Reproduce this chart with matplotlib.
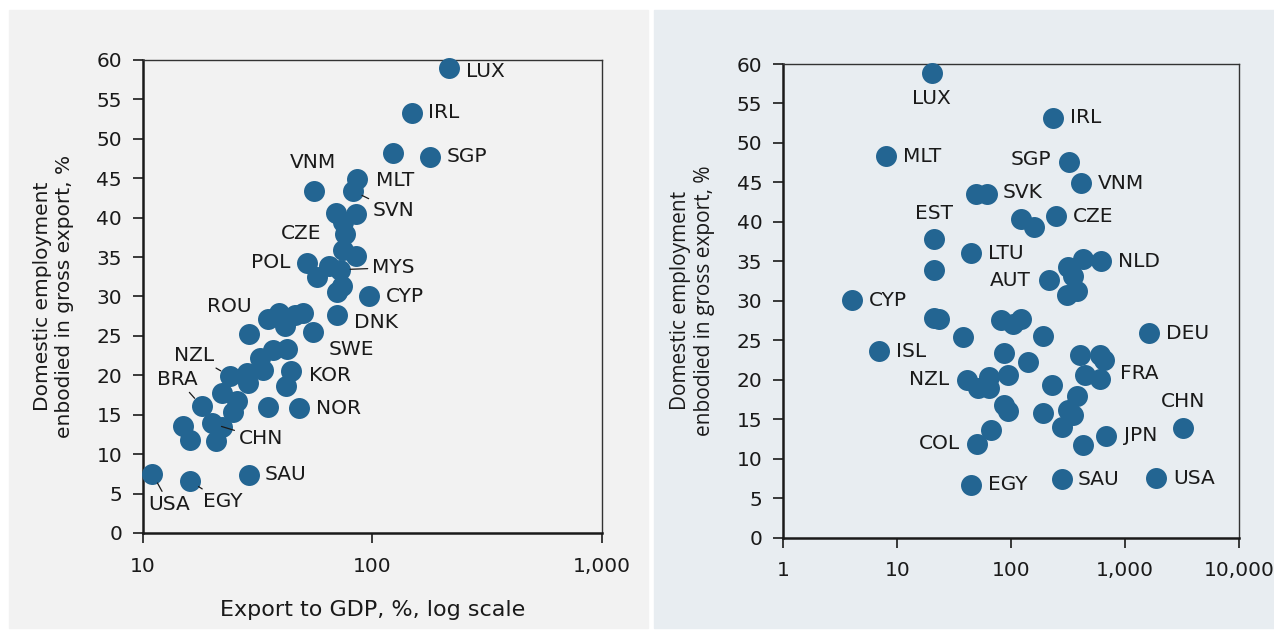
import numpy as np
import matplotlib
matplotlib.use("Agg")
import matplotlib.pyplot as plt
from matplotlib.patches import Rectangle
from matplotlib.ticker import FixedLocator, FuncFormatter, NullLocator

plt.rcParams['font.family'] = ['DejaVu Sans']

# Left panel: export to GDP (%) vs domestic employment embodied in gross export (%)
left_codes = ['LUX', 'IRL', '', 'SGP', 'MLT', 'VNM', 'SVN', '', '', '', 'CZE', '', '',
              'POL', '', 'MYS', '', '', '', 'CYP', 'DNK', 'ROU', '', '', '', '', '',
              'SWE', '', '', '', '', '', 'NZL', '', 'KOR', '', '', '', '', 'BRA', '',
              'NOR', '', 'CHN', '', '', '', 'USA', 'EGY', 'SAU']
left_x = [215, 148, 123, 179, 86, 55.7, 82, 69.2, 84.9, 74.3, 75.9, 74.2, 84.7,
          52.0, 64.8, 72.1, 57.2, 70.2, 73.6, 96.8, 70.2, 29.0, 35.1, 39.2, 45.9, 50.0, 41.6,
          54.8, 42.3, 37.0, 32.4, 33.4, 28.3, 23.9, 28.8, 44.0, 42.0, 22.0, 25.6, 24.7, 18.0, 34.9,
          48.0, 15.0, 19.9, 22.0, 16.0, 20.9, 11.0, 16.0, 29.0]
left_y = [59.0, 53.3, 48.2, 47.7, 44.9, 43.4, 43.4, 40.6, 40.4, 39.4, 37.9, 35.9, 35.1,
          34.3, 33.9, 33.4, 32.5, 30.6, 31.3, 30.0, 27.6, 25.3, 27.1, 27.9, 27.7, 27.9, 26.2,
          25.5, 23.4, 23.2, 22.2, 20.7, 20.3, 19.9, 19.0, 20.6, 18.6, 17.7, 16.7, 15.4, 16.1, 16.0,
          15.8, 13.6, 13.9, 13.5, 11.8, 11.7, 7.5, 6.6, 7.4]

# Right panel: same countries against export volume (log scale)
right_codes = ['LUX', 'IRL', 'MLT', 'SGP', 'VNM', '', 'SVK', '', '', 'CZE', 'EST', '',
               'LTU', 'AUT', '', '', 'NLD', '', '', '', 'CYP', '', '', '', '', '', '', '',
               'DEU', 'ISL', '', '', '', '', '', '', 'FRA', 'NZL', '', '', '', '', '', '',
               '', '', '', '', '', '', '', 'COL', '', 'JPN', 'CHN', 'EGY', 'SAU', 'USA']
right_x = [20.0, 231, 7.96, 323, 408, 48.7, 60.9, 121, 158, 247, 20.9, 20.9,
           44.3, 215, 316, 428, 612, 350, 310, 379, 3.98, 21.0, 23.4, 37.9, 80.7, 104, 123, 191,
           1615, 6.95, 86.3, 141, 401, 600, 650, 443, 600, 40.6, 51.4, 64.1, 64.1, 94.2, 229,
           86.3, 94.2, 191, 375, 316, 350, 277, 65.9, 50.3, 423, 673, 3228, 44.3, 277, 1858]
right_y = [58.9, 53.2, 48.3, 47.6, 44.9, 43.5, 43.5, 40.4, 39.3, 40.7, 37.8, 33.9,
           36.0, 32.6, 34.3, 35.3, 35.0, 33.1, 30.7, 31.3, 30.1, 27.8, 27.7, 25.4, 27.6, 27.1, 27.7, 25.5,
           25.9, 23.6, 23.4, 22.2, 23.1, 23.1, 22.5, 20.6, 20.1, 20.0, 18.9, 20.4, 18.9, 20.6, 19.3,
           16.8, 16.1, 15.8, 17.9, 16.2, 15.5, 14.0, 13.6, 11.9, 11.7, 12.9, 13.9, 6.7, 7.4, 7.5]

# label placement: offset in pixels from the dot, alignment, leader line
left_labels = {
    'LUX': (17, -4, 'left', False), 'IRL': (16, 0, 'left', False),
    'SGP': (16, 0, 'left', False), 'MLT': (19, -1, 'left', False),
    'VNM': (-1, 28, 'center', False), 'SVN': (20, -20, 'left', True),
    'CZE': (-24, 1, 'right', False), 'POL': (-17, 0, 'right', False),
    'MYS': (32, 2, 'left', True), 'CYP': (17, 0, 'left', False),
    'DNK': (17, -7, 'left', False), 'ROU': (-20, 27, 'center', False),
    'SWE': (16, -18, 'left', False), 'NZL': (-16, 21, 'right', True),
    'BRA': (-24, 27, 'center', True), 'KOR': (18, -5, 'left', False),
    'NOR': (17, 0, 'left', False), 'CHN': (27, -15, 'left', True),
    'USA': (17, -31, 'center', True), 'EGY': (13, -21, 'left', True),
    'SAU': (16, 0, 'left', False),
}
right_labels = {
    'LUX': (0, -26, 'center', False), 'IRL': (17, 0, 'left', False),
    'MLT': (17, 0, 'left', False), 'SGP': (-18, 2, 'right', False),
    'VNM': (17, 0, 'left', False), 'SVK': (16, 2, 'left', False),
    'EST': (0, 26, 'center', False), 'CZE': (17, 0, 'left', False),
    'LTU': (17, 0, 'left', False), 'AUT': (-18, 0, 'right', False),
    'NLD': (17, 0, 'left', False), 'CYP': (17, 0, 'left', False),
    'DEU': (17, 0, 'left', False), 'ISL': (17, 0, 'left', False),
    'NZL': (-17, 0, 'right', False), 'FRA': (20, 6, 'left', False),
    'CHN': (0, 26, 'center', False), 'JPN': (18, 0, 'left', False),
    'COL': (-17, 0, 'right', False), 'EGY': (17, 0, 'left', False),
    'SAU': (16, 0, 'left', False), 'USA': (17, 0, 'left', False),
}

DOT = '#236592'
INK = '#1a1a1a'
FS = 14.5

fig = plt.figure(figsize=(12.74, 6.30), dpi=100)
fig.add_artist(Rectangle((9 / 1274, 2 / 630), 639 / 1274, 618 / 630,
                         transform=fig.transFigure, color='#f2f2f2', zorder=-5))
fig.add_artist(Rectangle((654 / 1274, 2 / 630), 620 / 1274, 618 / 630,
                         transform=fig.transFigure, color='#e8edf1', zorder=-5))

ax1 = fig.add_axes([0.1122, 0.1540, 0.3603, 0.7508])
ax2 = fig.add_axes([0.6148, 0.1465, 0.3579, 0.7519])


def style_axes(ax, xticks):
    ax.set_facecolor('none')
    ax.set_xscale('log')
    ax.set_xlim(xticks[0], xticks[-1])
    ax.set_ylim(0, 60)
    ax.xaxis.set_major_locator(FixedLocator(xticks))
    ax.xaxis.set_minor_locator(NullLocator())
    ax.xaxis.set_major_formatter(FuncFormatter(lambda v, p: f'{v:,.0f}'))
    ax.set_yticks(np.arange(0, 61, 5))
    ax.tick_params(axis='both', direction='out', length=7, width=1.2, colors=INK,
                   labelsize=FS)
    ax.tick_params(axis='x', pad=10)
    ax.tick_params(axis='y', pad=8)
    for side in ['left', 'bottom']:
        ax.spines[side].set_linewidth(1.8)
        ax.spines[side].set_color(INK)
    for side in ['top', 'right']:
        ax.spines[side].set_linewidth(1.0)
        ax.spines[side].set_color('#333333')


def draw_panel(ax, codes, xs, ys, labels):
    ax.scatter(xs, ys, s=228, color=DOT, linewidths=0, zorder=3, clip_on=False)
    for code, x, y in zip(codes, xs, ys):
        if code not in labels:
            continue
        dx, dy, ha, leader = labels[code]
        arrow = None
        if leader:
            arrow = dict(arrowstyle='-', color=INK, lw=0.9, shrinkA=1, shrinkB=7.5)
        ax.annotate(code, (x, y), xytext=(dx, dy), textcoords='offset pixels',
                    ha=ha, va='center', fontsize=FS, color=INK, zorder=4,
                    arrowprops=arrow)


style_axes(ax1, [10, 100, 1000])
draw_panel(ax1, left_codes, left_x, left_y, left_labels)
ax1.set_xlabel('Export to GDP, %, log scale', fontsize=16, color=INK)
ax1.xaxis.set_label_coords(0.5, -0.142)
ax1.set_ylabel('Domestic employment\nenbodied in gross export, %', fontsize=FS, color=INK)
ax1.yaxis.set_label_coords(-0.150, 0.5)

style_axes(ax2, [1, 10, 100, 1000, 10000])
draw_panel(ax2, right_codes, right_x, right_y, right_labels)
ax2.set_ylabel('Domestic employment\nenbodied in gross export, %', fontsize=15,
               color=INK, family=['Open Sans', 'DejaVu Sans'])
ax2.yaxis.set_label_coords(-0.150, 0.5)

fig.savefig('out.png', dpi=100)
